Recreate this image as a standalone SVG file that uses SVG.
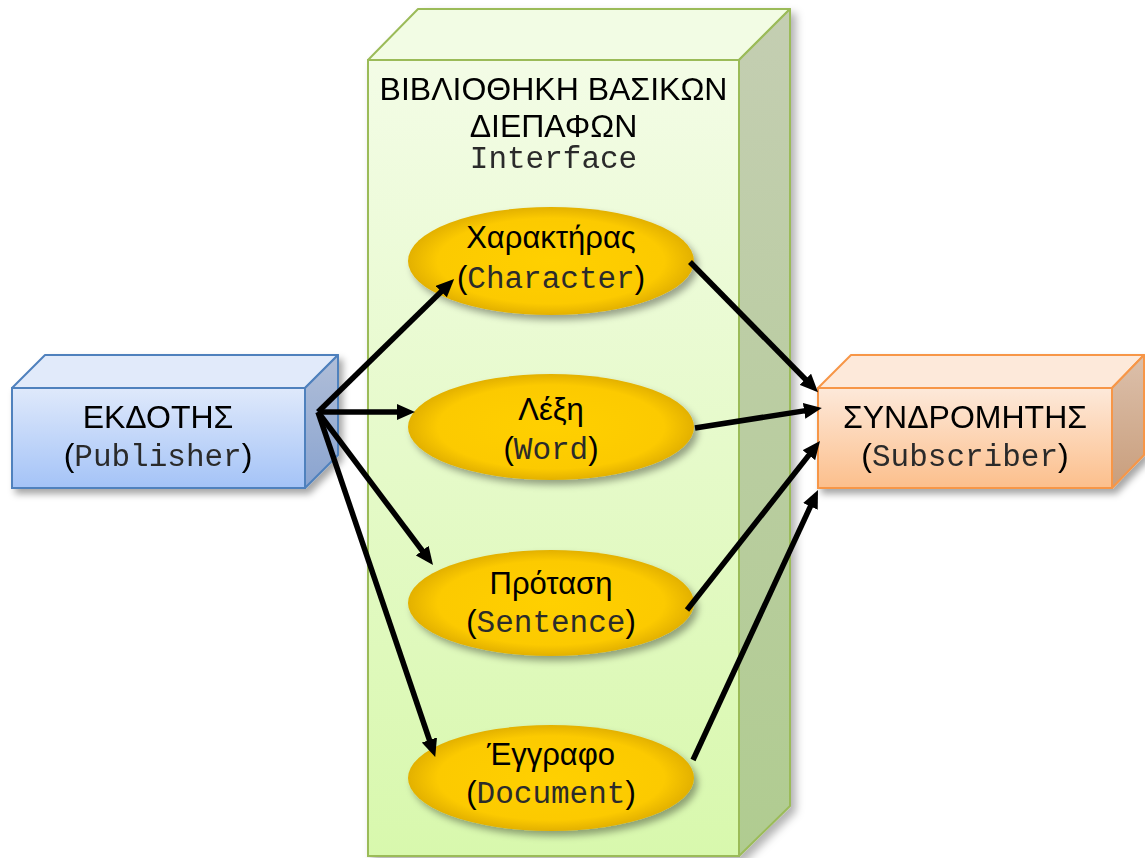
<svg xmlns="http://www.w3.org/2000/svg" width="1145" height="858" viewBox="0 0 1145 858">
<style>
.sans{font-family:"Liberation Sans",Arial,sans-serif;fill:#000}
.mono{font-family:"Liberation Mono","Courier New",monospace;fill:#2b2b2b}
.conn{stroke:#000;stroke-width:5.5;fill:none;marker-end:url(#arr)}
</style>
<defs>
<filter id="sh" x="-20%" y="-20%" width="140%" height="140%">
<feDropShadow dx="4" dy="5" stdDeviation="3.5" flood-color="#000" flood-opacity="0.35"/>
</filter>
<filter id="sh2" x="-10%" y="-10%" width="130%" height="130%">
<feDropShadow dx="5" dy="5" stdDeviation="4" flood-color="#000" flood-opacity="0.3"/>
</filter>
<marker id="arr" markerUnits="userSpaceOnUse" viewBox="0 0 18 16" markerWidth="18" markerHeight="16" refX="8" refY="8" orient="auto">
<path d="M0,0 L18,8 L0,16 z" fill="#000"/>
</marker>
<linearGradient id="gFront" x1="0" y1="0" x2="0" y2="1">
<stop offset="0" stop-color="#f3fce6"/><stop offset="1" stop-color="#d8f8ad"/>
</linearGradient>
<linearGradient id="gSide" x1="0" y1="0" x2="0" y2="1">
<stop offset="0" stop-color="#c4ceb2"/><stop offset="1" stop-color="#b0cc90"/>
</linearGradient>
<linearGradient id="bFront" x1="0" y1="0" x2="0" y2="1">
<stop offset="0" stop-color="#dfe9fb"/><stop offset="1" stop-color="#a4c3f7"/>
</linearGradient>
<linearGradient id="bSide" x1="0" y1="0" x2="0" y2="1">
<stop offset="0" stop-color="#b0bed8"/><stop offset="1" stop-color="#8aa4d0"/>
</linearGradient>
<linearGradient id="oFront" x1="0" y1="0" x2="0" y2="1">
<stop offset="0" stop-color="#fde9da"/><stop offset="1" stop-color="#fcbf8c"/>
</linearGradient>
<linearGradient id="oSide" x1="0" y1="0" x2="0" y2="1">
<stop offset="0" stop-color="#dcc0ab"/><stop offset="1" stop-color="#c99e7c"/>
</linearGradient>
<radialGradient id="gold" cx="50%" cy="50%" r="55%">
<stop offset="0" stop-color="#ffd000"/><stop offset="0.72" stop-color="#fcca00"/><stop offset="0.9" stop-color="#e4b200"/><stop offset="1" stop-color="#c99b00"/>
</radialGradient>
</defs>

<g id="library" filter="url(#sh2)">
<rect x="368" y="60" width="371" height="796" fill="url(#gFront)" stroke="#9bbb59" stroke-width="2"/>
<polygon points="368,60 418,9 790,9 739,60" fill="#f2fce4" stroke="#9bbb59" stroke-width="2" stroke-linejoin="round"/>
<polygon points="739,60 790,9 790,806 739,856" fill="url(#gSide)" stroke="#9bbb59" stroke-width="2" stroke-linejoin="round"/>
<text class="sans" x="553.5" y="100" font-size="32" text-anchor="middle">ΒΙΒΛΙΟΘΗΚΗ ΒΑΣΙΚΩΝ</text>
<text class="sans" x="553.5" y="137" font-size="32" text-anchor="middle">ΔΙΕΠΑΦΩΝ</text>
<text class="mono" x="553.5" y="168" font-size="31" text-anchor="middle">Interface</text>
</g>

<g id="publisher" filter="url(#sh)">
<rect x="12" y="388" width="293" height="100" fill="url(#bFront)" stroke="#4f81bd" stroke-width="2"/>
<polygon points="12,388 45,355 338,355 305,388" fill="#e1eafa" stroke="#4f81bd" stroke-width="2" stroke-linejoin="round"/>
<polygon points="305,388 338,355 338,455 305,488" fill="url(#bSide)" stroke="#4f81bd" stroke-width="2" stroke-linejoin="round"/>
<text class="sans" x="158" y="428" font-size="32" text-anchor="middle">ΕΚΔΟΤΗΣ</text>
<text x="158" y="466" font-size="32" text-anchor="middle"><tspan class="sans">(</tspan><tspan class="mono" font-size="31">Publisher</tspan><tspan class="sans">)</tspan></text>
</g>

<g id="subscriber" filter="url(#sh)">
<rect x="818" y="388" width="294" height="100" fill="url(#oFront)" stroke="#f79646" stroke-width="2"/>
<polygon points="818,388 851,355 1144,355 1112,388" fill="#fde9da" stroke="#f79646" stroke-width="2" stroke-linejoin="round"/>
<polygon points="1112,388 1144,355 1144,455 1112,488" fill="url(#oSide)" stroke="#f79646" stroke-width="2" stroke-linejoin="round"/>
<text class="sans" x="965" y="428" font-size="32" text-anchor="middle">ΣΥΝΔΡΟΜΗΤΗΣ</text>
<text x="965" y="466" font-size="32" text-anchor="middle"><tspan class="sans">(</tspan><tspan class="mono" font-size="31">Subscriber</tspan><tspan class="sans">)</tspan></text>
</g>

<g id="character">
<ellipse cx="551" cy="261" rx="143" ry="54" fill="url(#gold)" filter="url(#sh)"/>
<text class="sans" x="551" y="248" font-size="31" text-anchor="middle">Χαρακτήρας</text>
<text x="551" y="288" font-size="31" text-anchor="middle"><tspan class="sans">(</tspan><tspan class="mono">Character</tspan><tspan class="sans">)</tspan></text>
</g>

<g id="word">
<ellipse cx="551" cy="427" rx="143" ry="53" fill="url(#gold)" filter="url(#sh)"/>
<text class="sans" x="551" y="420" font-size="31" text-anchor="middle">Λέξη</text>
<text x="551" y="459" font-size="31" text-anchor="middle"><tspan class="sans">(</tspan><tspan class="mono">Word</tspan><tspan class="sans">)</tspan></text>
</g>

<g id="sentence">
<ellipse cx="551" cy="603" rx="143" ry="53" fill="url(#gold)" filter="url(#sh)"/>
<text class="sans" x="551" y="594" font-size="31" text-anchor="middle">Πρόταση</text>
<text x="551" y="632" font-size="31" text-anchor="middle"><tspan class="sans">(</tspan><tspan class="mono">Sentence</tspan><tspan class="sans">)</tspan></text>
</g>

<g id="document">
<ellipse cx="551" cy="778" rx="143" ry="53" fill="url(#gold)" filter="url(#sh)"/>
<text class="sans" x="551" y="765" font-size="31" text-anchor="middle">Έγγραφο</text>
<text x="551" y="803" font-size="31" text-anchor="middle"><tspan class="sans">(</tspan><tspan class="mono">Document</tspan><tspan class="sans">)</tspan></text>
</g>

<g id="connectors">
<line class="conn" x1="318" y1="412" x2="447" y2="286"/>
<line class="conn" x1="318" y1="412" x2="405" y2="412"/>
<line class="conn" x1="318" y1="412" x2="427" y2="557"/>
<line class="conn" x1="318" y1="412" x2="432" y2="747.5"/>
<line class="conn" x1="690" y1="262" x2="811" y2="385"/>
<line class="conn" x1="695" y1="428" x2="812" y2="409.6"/>
<line class="conn" x1="687" y1="610" x2="813.8" y2="448.9"/>
<line class="conn" x1="693" y1="760" x2="813.8" y2="499.1"/>
</g>
</svg>
